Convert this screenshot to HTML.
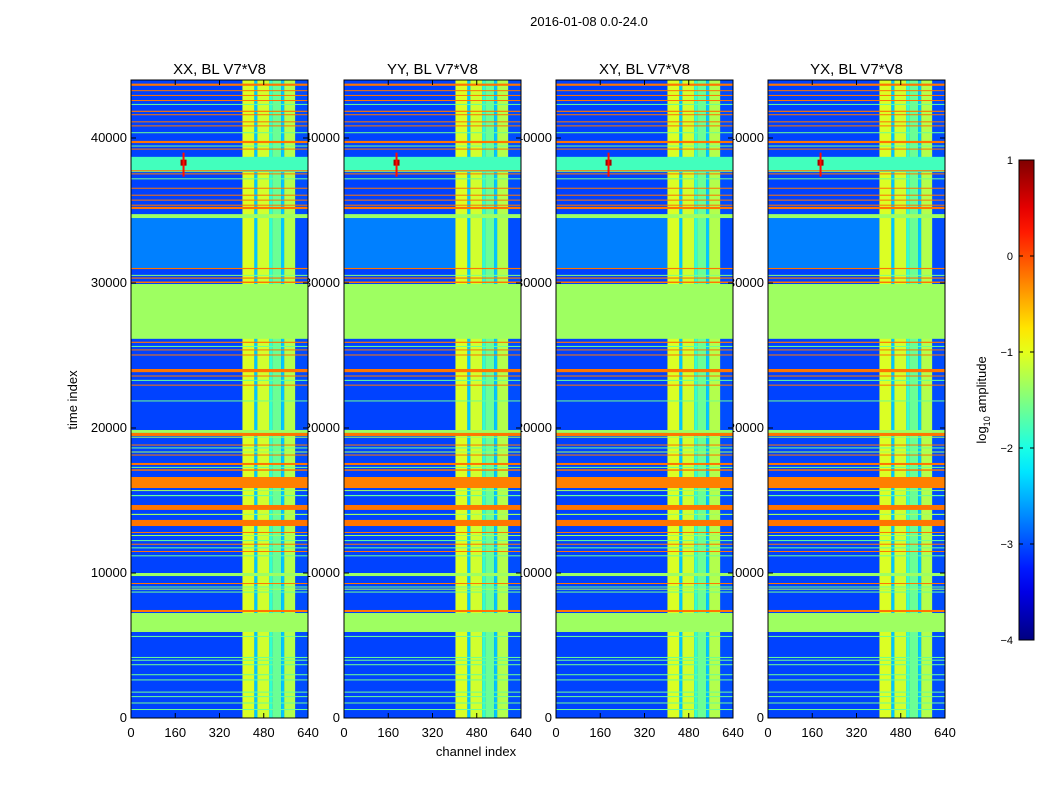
<!DOCTYPE html>
<html><head><meta charset="utf-8"><style>
body{margin:0;background:#fff;width:1050px;height:800px;overflow:hidden;font-family:"Liberation Sans",sans-serif}
svg text{font-family:"Liberation Sans",sans-serif}
</style></head><body>
<svg id="fig" width="1050" height="800" viewBox="0 0 1050 800" xmlns="http://www.w3.org/2000/svg">
<rect width="1050" height="800" fill="#fff"/>
<text x="589" y="26" font-size="13" text-anchor="middle">2016-01-08 0.0-24.0</text>
<text x="0" y="0" font-size="13" text-anchor="middle" transform="translate(77,400) rotate(-90)">time index</text>
<text x="476" y="756" font-size="13" text-anchor="middle">channel index</text>
<g id="ticklabels"></g>
<g id="panels"></g>
<g id="cbar"></g>
</svg>
<script>
const panelTitles=["XX, BL V7*V8","YY, BL V7*V8","XY, BL V7*V8","YX, BL V7*V8"];
const panelLeft=[131,344,556,768];
const xTicks=[0,160,320,480,640];
const yTicks=[0,10000,20000,30000,40000];
const cbTicks=[1,0,-1,-2,-3,-4];
const baseValue=-3.05;
// channel column bands: start, end, log amplitude
const colStart=[403,446,457,500,511,543,554,594];
const colEnd  =[446,457,500,511,543,554,594,640];
const colValue=[-1.05,-2.4,-1.1,-1.9,-1.6,-2.4,-1.25,-3.0];
// time bands: start, end, log amplitude
const bandStart=[31040,43600,43250,42900,42550,42300,41800,41570,41080,40800,40330,39650,39420,39200,37650,37700,37500,37150,36500,36020,35680,35330,35100,34480,30960,30500,30300,30000,26150,25870,25600,25350,25000,23850,23550,23250,22920,21850,19660,19450,19350,18790,18600,18310,18100,17450,17250,17050,15860,15650,15300,14350,14000,13240,12760,12550,12200,11950,11700,11450,11150,9790,9240,9000,8850,8650,7310,5930,5600,4150,3950,3650,2950,2600,1750,1450,1000,550];
const bandEnd  =[34480,43750,43300,42970,42620,42350,41880,41640,41150,40870,40400,39800,39480,39270,38700,37780,37560,37220,36570,36090,35750,35400,35250,34750,31040,30560,30380,30100,29930,25950,25660,25420,25070,24070,23620,23320,22990,21900,19860,19660,19400,18860,18660,18380,18170,17590,17320,17150,16620,15720,15380,14690,14080,13660,12830,12620,12270,12020,11770,11520,11220,10000,9310,9070,8920,8720,7450,7240,5660,4210,4020,3710,3020,2660,1820,1510,1070,620];
const bandValue=[-2.75,-0.2,-0.2,-0.2,-0.2,-1.6,-0.2,-0.2,-0.2,-0.2,-1.6,-0.2,-1.6,-0.2,-1.8,-0.2,-0.2,-1.6,-0.2,-0.2,-0.2,-0.2,-0.2,-1.35,-0.2,-1.5,-0.2,-0.2,-1.35,-0.2,-1.6,-0.2,-0.2,-0.2,-0.2,-1.6,-0.2,-1.6,-1.35,-0.2,-1.35,-0.2,-1.6,-1.35,-0.2,-0.2,-1.6,-0.2,-0.25,-1.35,-1.6,-0.2,-1.35,-0.2,-0.2,-1.35,-1.6,-0.2,-1.6,-0.2,-1.6,-1.35,-0.2,-1.6,-1.35,-1.6,-0.2,-1.35,-1.6,-1.6,-1.6,-1.6,-1.6,-1.6,-1.6,-1.6,-1.6,-1.6];
// hot spot (RFI) marks
const spotChan=[190];
const spotTime=[38300];
const spotValue=[0.8];

const NS="http://www.w3.org/2000/svg";
const pW=177, yTop=80, yBot=718, tMax=44000, chMax=640;
function xs(i,ch){return panelLeft[i]+ch*pW/chMax;}
function ys(t){return yBot-t*(yBot-yTop)/tMax;}
function jet(v){const x=Math.max(0,Math.min(1,(v+4)/5));const c=a=>Math.round(255*Math.max(0,Math.min(1,1.5-Math.abs(4*x-a))));return `rgb(${c(3)},${c(2)},${c(1)})`;}
function mk(tag,attrs,parent){const e=document.createElementNS(NS,tag);for(const k in attrs)e.setAttribute(k,attrs[k]);parent.appendChild(e);return e;}
const TL=document.getElementById('ticklabels'),PN=document.getElementById('panels'),CB=document.getElementById('cbar');
for(let i=0;i<4;i++){
  for(const t of yTicks){const e=mk('text',{x:panelLeft[i]-4,y:ys(t)+4,'font-size':13,'text-anchor':'end'},TL);e.textContent=t;
    
    }
}
for(let i=0;i<4;i++){
  const g=mk('g',{},PN);
  
  
  const x0=panelLeft[i];
  const bg=mk('rect',{x:x0,y:yTop,width:pW,height:yBot-yTop,fill:jet(baseValue)},g);
  
  
  const draw=(k)=>{const r=mk('rect',{x:x0,y:ys(bandEnd[k]),width:pW,height:Math.max(1,ys(bandStart[k])-ys(bandEnd[k])),fill:jet(bandValue[k])},g);
    
    };
  draw(0);
  for(let c=0;c<colStart.length;c++){const r=mk('rect',{x:xs(i,colStart[c]),y:yTop,width:xs(i,colEnd[c])-xs(i,colStart[c]),height:yBot-yTop,fill:jet(colValue[c])},g);
    
    }
  for(let k=1;k<bandStart.length;k++)draw(k);
  for(let s=0;s<spotChan.length;s++){
    const r=mk('rect',{x:xs(i,spotChan[s])-3,y:ys(spotTime[s])-3,width:6,height:6,fill:jet(spotValue[s])},g);
    
    
    const v=mk('rect',{x:xs(i,spotChan[s])-1,y:ys(spotTime[s])-10,width:2,height:24,fill:jet(spotValue[s]-0.5)},g);
    
    }
  const fr=mk('rect',{x:x0,y:yTop,width:pW,height:yBot-yTop,fill:'none',stroke:'#000','stroke-width':1},g);
  
  
  const tt=mk('text',{x:x0+pW/2,y:74,'font-size':15,'text-anchor':'middle'},g);tt.textContent=panelTitles[i];
  
  
  for(const ch of xTicks){const X=xs(i,ch);
    mk('line',{x1:X,y1:yBot,x2:X,y2:yBot-5,stroke:'#000'},g);mk('line',{x1:X,y1:yTop,x2:X,y2:yTop+5,stroke:'#000'},g);
    const e=mk('text',{x:X,y:737,'font-size':13,'text-anchor':'middle'},g);e.textContent=ch;
    
    }
  for(const t of yTicks){const Y=ys(t);
    mk('line',{x1:x0,y1:Y,x2:x0+5,y2:Y,stroke:'#000'},g);mk('line',{x1:x0+pW,y1:Y,x2:x0+pW-5,y2:Y,stroke:'#000'},g);}
}
// colorbar
const cbX=1019,cbW=15,cbTop=160,cbBot=640;
const defs=mk('defs',{},CB);const grad=mk('linearGradient',{id:'jetg',x1:0,y1:1,x2:0,y2:0},defs);
for(let s=0;s<=20;s++){const v=-4+5*s/20;mk('stop',{offset:s/20,'stop-color':jet(v)},grad);}
const cb=mk('rect',{x:cbX,y:cbTop,width:cbW,height:cbBot-cbTop,fill:'url(#jetg)',stroke:'#000'},CB);


for(const v of cbTicks){const Y=cbBot-(v+4)/5*(cbBot-cbTop);
  mk('line',{x1:cbX,y1:Y,x2:cbX+4,y2:Y,stroke:'#000'},CB);mk('line',{x1:cbX+cbW,y1:Y,x2:cbX+cbW-4,y2:Y,stroke:'#000'},CB);
  const e=mk('text',{x:1013,y:Y+4,'font-size':11,'text-anchor':'end'},CB);e.textContent=v<0?'\u2212'+(-v):v;
  
  }
const cl=mk('text',{'font-size':13,'text-anchor':'middle',transform:'translate(986,400) rotate(-90)'},CB);
cl.innerHTML='log<tspan font-size="9" dy="4">10</tspan><tspan dy="-4"> amplitude</tspan>';


</script>
</body></html>
